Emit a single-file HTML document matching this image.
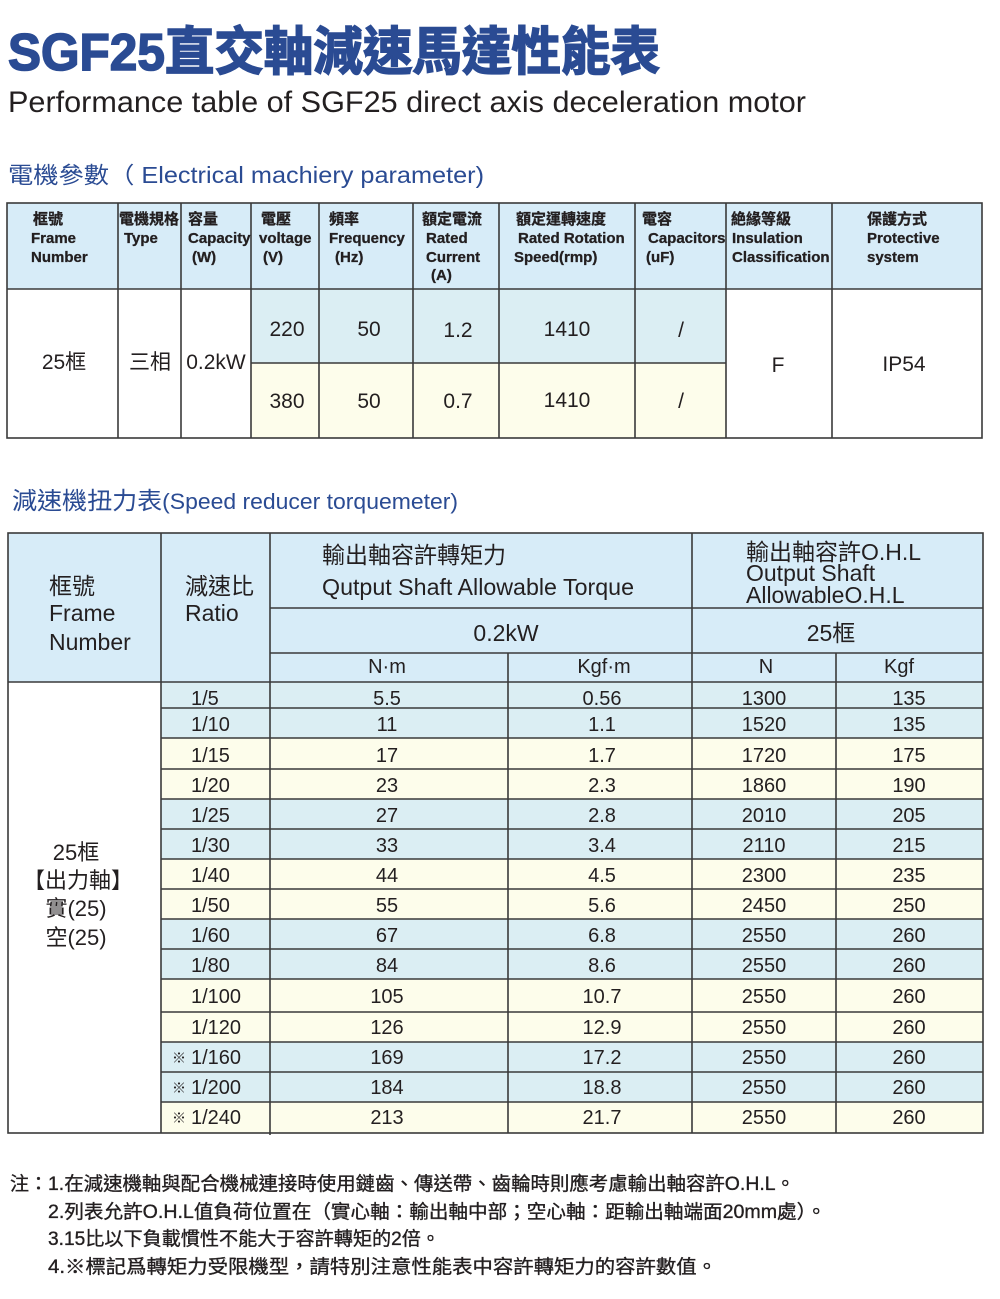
<!DOCTYPE html>
<html><head><meta charset="utf-8">
<style>
html,body{margin:0;padding:0;background:#fff;}
svg{display:block;}
text{font-family:"Liberation Sans","Noto Sans CJK TC",sans-serif;fill:#231f20;}
.b{fill:#2a4b93;}
.h{font-weight:bold;font-size:15px;stroke:#231f20;stroke-width:0.3;}
.d{font-size:21px;}
.t{font-size:20px;}
.g{font-size:23px;}
.n{font-size:19px;stroke:#231f20;stroke-width:0.35;}
</style></head>
<body>
<svg width="1000" height="1299" viewBox="0 0 1000 1299" xmlns="http://www.w3.org/2000/svg">
<rect width="1000" height="1299" fill="#fff"/>
<!-- Titles -->
<text class="b" x="8" y="70" font-size="52" font-weight="bold" stroke="#2a4b93" stroke-width="1.6" textLength="652" lengthAdjust="spacingAndGlyphs">SGF25直交軸減速馬達性能表</text>
<text x="8" y="112" font-size="30" textLength="798" lengthAdjust="spacingAndGlyphs">Performance table of SGF25 direct axis deceleration motor</text>
<text class="b" x="8" y="183" font-size="23" textLength="476" lengthAdjust="spacingAndGlyphs">電機參數（ Electrical machiery parameter)</text>

<!-- Table 1 fills -->
<rect x="7" y="203" width="975" height="86" fill="#d7ecf8"/>
<rect x="251" y="289" width="475" height="74" fill="#dbeef3"/>
<rect x="251" y="363" width="475" height="75" fill="#fdfdeb"/>
<g stroke="#3a3a3a" stroke-width="1.6" fill="none">
<rect x="7" y="203" width="975" height="235"/>
<line x1="7" y1="289" x2="982" y2="289"/>
<line x1="251" y1="363" x2="726" y2="363"/>
<line x1="118" y1="203" x2="118" y2="438"/>
<line x1="181" y1="203" x2="181" y2="438"/>
<line x1="251" y1="203" x2="251" y2="438"/>
<line x1="319" y1="203" x2="319" y2="438"/>
<line x1="413" y1="203" x2="413" y2="438"/>
<line x1="499" y1="203" x2="499" y2="438"/>
<line x1="635" y1="203" x2="635" y2="438"/>
<line x1="726" y1="203" x2="726" y2="438"/>
<line x1="832" y1="203" x2="832" y2="438"/>
</g>
<!-- Table 1 header text -->
<g>
<text class="h" x="33" y="224">框號</text>
<text class="h" x="31" y="243">Frame</text>
<text class="h" x="31" y="262">Number</text>
<text class="h" x="119" y="224">電機規格</text>
<text class="h" x="124" y="243">Type</text>
<text class="h" x="188" y="224">容量</text>
<text class="h" x="188" y="243">Capacity</text>
<text class="h" x="192" y="262">(W)</text>
<text class="h" x="261" y="224">電壓</text>
<text class="h" x="259" y="243">voltage</text>
<text class="h" x="263" y="262">(V)</text>
<text class="h" x="329" y="224">頻率</text>
<text class="h" x="329" y="243">Frequency</text>
<text class="h" x="335" y="262">(Hz)</text>
<text class="h" x="422" y="224">額定電流</text>
<text class="h" x="426" y="243">Rated</text>
<text class="h" x="426" y="262">Current</text>
<text class="h" x="431" y="280">(A)</text>
<text class="h" x="516" y="224">額定運轉速度</text>
<text class="h" x="518" y="243">Rated Rotation</text>
<text class="h" x="514" y="262">Speed(rmp)</text>
<text class="h" x="642" y="224">電容</text>
<text class="h" x="648" y="243">Capacitors</text>
<text class="h" x="646" y="262">(uF)</text>
<text class="h" x="731" y="224">絶緣等級</text>
<text class="h" x="732" y="243">Insulation</text>
<text class="h" x="732" y="262">Classification</text>
<text class="h" x="867" y="224">保護方式</text>
<text class="h" x="867" y="243">Protective</text>
<text class="h" x="867" y="262">system</text>
</g>
<!-- Table 1 data -->
<g text-anchor="middle">
<text class="d" x="64" y="369">25框</text>
<text class="d" x="150" y="369">三相</text>
<text class="d" x="216" y="369">0.2kW</text>
<text class="d" x="287" y="336">220</text>
<text class="d" x="369" y="336">50</text>
<text class="d" x="458" y="337">1.2</text>
<text class="d" x="567" y="336">1410</text>
<text class="d" x="681" y="337">/</text>
<text class="d" x="287" y="408">380</text>
<text class="d" x="369" y="408">50</text>
<text class="d" x="458" y="408">0.7</text>
<text class="d" x="567" y="407">1410</text>
<text class="d" x="681" y="408">/</text>
<text class="d" x="778" y="372">F</text>
<text class="d" x="904" y="371">IP54</text>
</g>

<!-- Section 2 heading -->
<text class="b" x="12" y="509" textLength="446" lengthAdjust="spacingAndGlyphs"><tspan font-size="24">減速機扭力表</tspan><tspan font-size="22">(Speed reducer torquemeter)</tspan></text>

<!-- Table 2 fills -->
<rect x="8" y="533" width="975" height="149" fill="#d7ecf8"/>
<rect x="161" y="682" width="822" height="26" fill="#dbeef3"/>
<rect x="161" y="708" width="822" height="30" fill="#dbeef3"/>
<rect x="161" y="738" width="822" height="31" fill="#fdfdeb"/>
<rect x="161" y="769" width="822" height="30" fill="#fdfdeb"/>
<rect x="161" y="799" width="822" height="30" fill="#dbeef3"/>
<rect x="161" y="829" width="822" height="30" fill="#dbeef3"/>
<rect x="161" y="859" width="822" height="30" fill="#fdfdeb"/>
<rect x="161" y="889" width="822" height="30" fill="#fdfdeb"/>
<rect x="161" y="919" width="822" height="30" fill="#dbeef3"/>
<rect x="161" y="949" width="822" height="30" fill="#dbeef3"/>
<rect x="161" y="979" width="822" height="33" fill="#fdfdeb"/>
<rect x="161" y="1012" width="822" height="30" fill="#fdfdeb"/>
<rect x="161" y="1042" width="822" height="30" fill="#dbeef3"/>
<rect x="161" y="1072" width="822" height="30" fill="#dbeef3"/>
<rect x="161" y="1102" width="822" height="31" fill="#fdfdeb"/>
<g stroke="#3a3a3a" stroke-width="1.6" fill="none">
<rect x="8" y="533" width="975" height="600"/>
<line x1="161" y1="533" x2="161" y2="1133"/>
<line x1="270" y1="533" x2="270" y2="1135"/>
<line x1="692" y1="533" x2="692" y2="1133"/>
<line x1="508" y1="653" x2="508" y2="1133"/>
<line x1="836" y1="653" x2="836" y2="1133"/>
<line x1="270" y1="608" x2="983" y2="608"/>
<line x1="270" y1="653" x2="983" y2="653"/>
<line x1="8" y1="682" x2="983" y2="682"/>
<line x1="161" y1="708" x2="983" y2="708"/>
<line x1="161" y1="738" x2="983" y2="738"/>
<line x1="161" y1="769" x2="983" y2="769"/>
<line x1="161" y1="799" x2="983" y2="799"/>
<line x1="161" y1="829" x2="983" y2="829"/>
<line x1="161" y1="859" x2="983" y2="859"/>
<line x1="161" y1="889" x2="983" y2="889"/>
<line x1="161" y1="919" x2="983" y2="919"/>
<line x1="161" y1="949" x2="983" y2="949"/>
<line x1="161" y1="979" x2="983" y2="979"/>
<line x1="161" y1="1012" x2="983" y2="1012"/>
<line x1="161" y1="1042" x2="983" y2="1042"/>
<line x1="161" y1="1072" x2="983" y2="1072"/>
<line x1="161" y1="1102" x2="983" y2="1102"/>
</g>
<!-- Table 2 header text -->
<text class="g" x="49" y="594">框號</text>
<text class="g" x="49" y="621">Frame</text>
<text class="g" x="49" y="650">Number</text>
<text class="g" x="185" y="594">減速比</text>
<text class="g" x="185" y="621">Ratio</text>
<text class="g" x="322" y="563">輸出軸容許轉矩力</text>
<text class="g" x="322" y="595" textLength="312" lengthAdjust="spacingAndGlyphs">Qutput Shaft Allowable Torque</text>
<text class="g" x="746" y="560">輸出軸容許O.H.L</text>
<text class="g" x="746" y="581">Output Shaft</text>
<text class="g" x="746" y="603">AllowableO.H.L</text>
<g text-anchor="middle">
<text class="g" x="506" y="641">0.2kW</text>
<text class="g" x="831" y="641">25框</text>
<text class="t" x="387" y="673">N·m</text>
<text class="t" x="604" y="673">Kgf·m</text>
<text class="t" x="766" y="673">N</text>
<text class="t" x="899" y="673">Kgf</text>
</g>
<!-- Left merged cell -->
<g text-anchor="middle">
<text font-size="22" x="76" y="860">25框</text>
<text font-size="22" x="78" y="888">【出力軸】</text>
<text font-size="22" x="76" y="916">實(25)</text>
<text font-size="22" x="76" y="945">空(25)</text>
</g>
<!-- Ratio column -->
<g>
<text class="t" x="191" y="705">1/5</text>
<text class="t" x="191" y="731">1/10</text>
<text class="t" x="191" y="762">1/15</text>
<text class="t" x="191" y="792">1/20</text>
<text class="t" x="191" y="822">1/25</text>
<text class="t" x="191" y="852">1/30</text>
<text class="t" x="191" y="882">1/40</text>
<text class="t" x="191" y="912">1/50</text>
<text class="t" x="191" y="942">1/60</text>
<text class="t" x="191" y="972">1/80</text>
<text class="t" x="191" y="1003">1/100</text>
<text class="t" x="191" y="1034">1/120</text>
<text class="t" x="191" y="1064">1/160</text>
<text class="t" x="191" y="1094">1/200</text>
<text class="t" x="191" y="1124">1/240</text>
<text font-size="14" x="172" y="1063">※</text>
<text font-size="14" x="172" y="1093">※</text>
<text font-size="14" x="172" y="1123">※</text>
</g>
<!-- Values -->
<g text-anchor="middle">
<text class="t" x="387" y="705">5.5</text><text class="t" x="602" y="705">0.56</text><text class="t" x="764" y="705">1300</text><text class="t" x="909" y="705">135</text>
<text class="t" x="387" y="731">11</text><text class="t" x="602" y="731">1.1</text><text class="t" x="764" y="731">1520</text><text class="t" x="909" y="731">135</text>
<text class="t" x="387" y="762">17</text><text class="t" x="602" y="762">1.7</text><text class="t" x="764" y="762">1720</text><text class="t" x="909" y="762">175</text>
<text class="t" x="387" y="792">23</text><text class="t" x="602" y="792">2.3</text><text class="t" x="764" y="792">1860</text><text class="t" x="909" y="792">190</text>
<text class="t" x="387" y="822">27</text><text class="t" x="602" y="822">2.8</text><text class="t" x="764" y="822">2010</text><text class="t" x="909" y="822">205</text>
<text class="t" x="387" y="852">33</text><text class="t" x="602" y="852">3.4</text><text class="t" x="764" y="852">2110</text><text class="t" x="909" y="852">215</text>
<text class="t" x="387" y="882">44</text><text class="t" x="602" y="882">4.5</text><text class="t" x="764" y="882">2300</text><text class="t" x="909" y="882">235</text>
<text class="t" x="387" y="912">55</text><text class="t" x="602" y="912">5.6</text><text class="t" x="764" y="912">2450</text><text class="t" x="909" y="912">250</text>
<text class="t" x="387" y="942">67</text><text class="t" x="602" y="942">6.8</text><text class="t" x="764" y="942">2550</text><text class="t" x="909" y="942">260</text>
<text class="t" x="387" y="972">84</text><text class="t" x="602" y="972">8.6</text><text class="t" x="764" y="972">2550</text><text class="t" x="909" y="972">260</text>
<text class="t" x="387" y="1003">105</text><text class="t" x="602" y="1003">10.7</text><text class="t" x="764" y="1003">2550</text><text class="t" x="909" y="1003">260</text>
<text class="t" x="387" y="1034">126</text><text class="t" x="602" y="1034">12.9</text><text class="t" x="764" y="1034">2550</text><text class="t" x="909" y="1034">260</text>
<text class="t" x="387" y="1064">169</text><text class="t" x="602" y="1064">17.2</text><text class="t" x="764" y="1064">2550</text><text class="t" x="909" y="1064">260</text>
<text class="t" x="387" y="1094">184</text><text class="t" x="602" y="1094">18.8</text><text class="t" x="764" y="1094">2550</text><text class="t" x="909" y="1094">260</text>
<text class="t" x="387" y="1124">213</text><text class="t" x="602" y="1124">21.7</text><text class="t" x="764" y="1124">2550</text><text class="t" x="909" y="1124">260</text>
</g>

<!-- Notes -->
<text class="n" x="10" y="1190">注：</text>
<text class="n" x="48" y="1190" textLength="747" lengthAdjust="spacingAndGlyphs">1.在減速機軸與配合機械連接時使用鏈齒、傳送帶、齒輪時則應考慮輸出軸容許O.H.L。</text>
<text class="n" x="48" y="1218" textLength="778" lengthAdjust="spacingAndGlyphs">2.列表允許O.H.L值負荷位置在（實心軸：輸出軸中部；空心軸：距輸出軸端面20mm處）。</text>
<text class="n" x="48" y="1245" textLength="392" lengthAdjust="spacingAndGlyphs">3.15比以下負載慣性不能大于容許轉矩的2倍。</text>
<text class="n" x="48" y="1273" textLength="669" lengthAdjust="spacingAndGlyphs">4.※標記爲轉矩力受限機型，請特別注意性能表中容許轉矩力的容許數值。</text>
</svg>
</body></html>
